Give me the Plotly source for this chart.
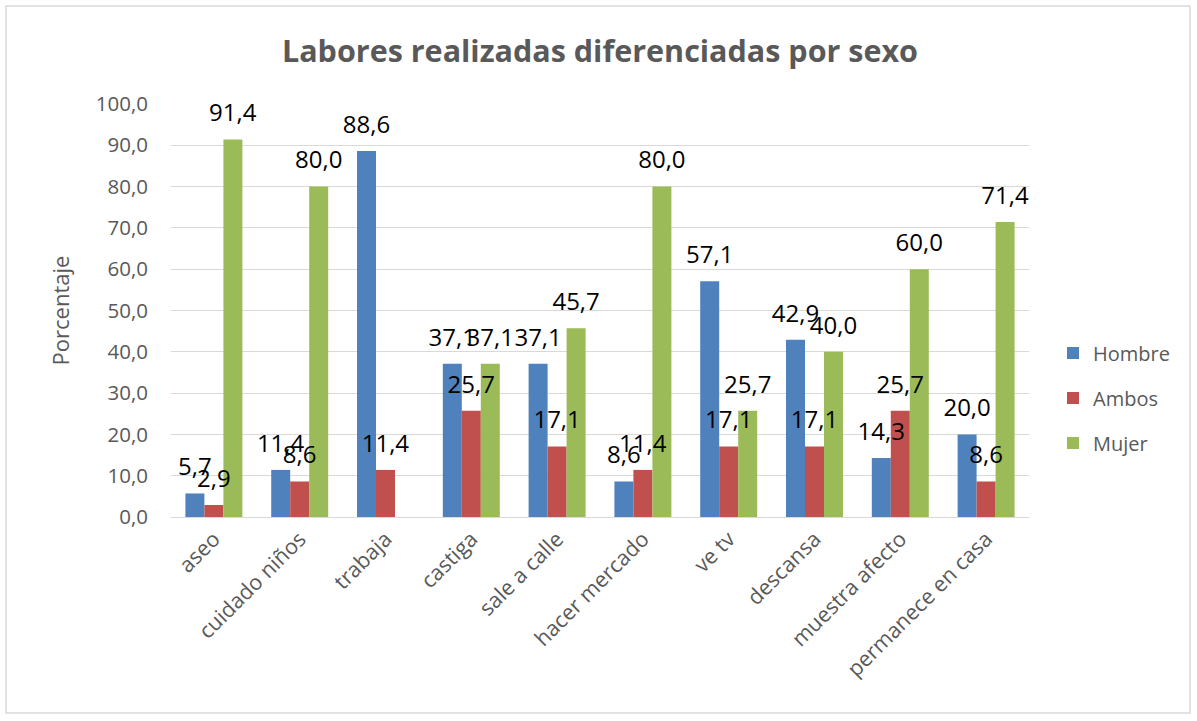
import plotly.graph_objects as go

categories = ["aseo", "cuidado niños", "trabaja", "castiga", "sale a calle",
              "hacer mercado", "ve tv", "descansa", "muestra afecto", "permanece en casa"]
hombre = [5.7, 11.4, 88.6, 37.1, 37.1, 8.6, 57.1, 42.9, 14.3, 20.0]
ambos = [2.9, 8.6, 11.4, 25.7, 17.1, 11.4, 17.1, 17.1, 25.7, 8.6]
mujer = [91.4, 80.0, None, 37.1, 45.7, 80.0, 25.7, 40.0, 60.0, 71.4]
series_names = ["Hombre", "Ambos", "Mujer"]
series_colors = ["#4F81BD", "#C0504D", "#9BBB59"]

FONT = "Open Sans"
W, H = 1197, 721
L, R, T, B = 171, 168, 104, 204
LABEL_PAD = 2.0  # gap between bar end and its data label (axis units)

fig = go.Figure()
series = list(zip(series_names, [hombre, ambos, mujer], series_colors))
# bars
for name, vals, col in series:
    fig.add_trace(go.Bar(
        x=categories, y=vals, name=name, marker_color=col,
        marker_line_width=0, offsetgroup=name, legendgroup=name,
    ))
# data labels drawn on top of all bars (transparent spacer above each bar)
for name, vals, col in series:
    pads = [None if v is None else LABEL_PAD for v in vals]
    fig.add_trace(go.Bar(
        x=categories, y=pads, base=vals, customdata=vals, name=name,
        offsetgroup=name,
        marker_color="rgba(0,0,0,0)", marker_line_width=0,
        texttemplate="%{customdata:.1f}", textposition="outside",
        textfont=dict(family=FONT, size=24, color="#000000"),
        constraintext="none", cliponaxis=False,
        showlegend=False, hoverinfo="skip",
    ))

pw, ph = W - L - R, H - T - B
def px(x):
    return (x - L) / pw
def py(y):
    return (H - B - y) / ph

fig.update_layout(
    width=W, height=H,
    margin=dict(l=L, r=R, t=T, b=B),
    paper_bgcolor="white", plot_bgcolor="white",
    separators=",.",
    barmode="group", bargap=0.336, bargroupgap=0,
    font=dict(family=FONT, color="#595959"),
    title=dict(text="<b>Labores realizadas diferenciadas por sexo</b>",
               x=0.5, xref="paper", xanchor="center", y=1 - 51 / H, yanchor="middle",
               font=dict(family=FONT, size=30.5, color="#595959")),
    showlegend=True,
    legend=dict(x=px(1053), y=py(398), xanchor="left", yanchor="middle",
                font=dict(family=FONT, size=20, color="#595959"),
                traceorder="grouped", tracegroupgap=16, itemwidth=30,
                bgcolor="rgba(0,0,0,0)"),
    xaxis=dict(tickangle=-45, tickfont=dict(family=FONT, size=21.5, color="#595959"),
               showline=True, linecolor="#D9D9D9", linewidth=1, ticks="",
               showgrid=False),
    yaxis=dict(range=[0, 100], dtick=10, tickformat=".1f",
               tickfont=dict(family=FONT, size=20.5, color="#595959"),
               showgrid=True, gridcolor="#D9D9D9", gridwidth=1,
               zeroline=False, showline=False, ticks="", ticklabelstandoff=22,
               title=dict(text="Porcentaje", standoff=20,
                          font=dict(family=FONT, size=22, color="#595959"))),
    shapes=[dict(type="rect", xref="paper", yref="paper",
                 x0=px(6), x1=px(1190), y0=py(713), y1=py(6),
                 line=dict(color="#D9D9D9", width=1.5), fillcolor="rgba(0,0,0,0)",
                 layer="below")],
)

fig.write_html("out.html", config={"displayModeBar": False},
               post_script="document.body.style.margin='0';")
